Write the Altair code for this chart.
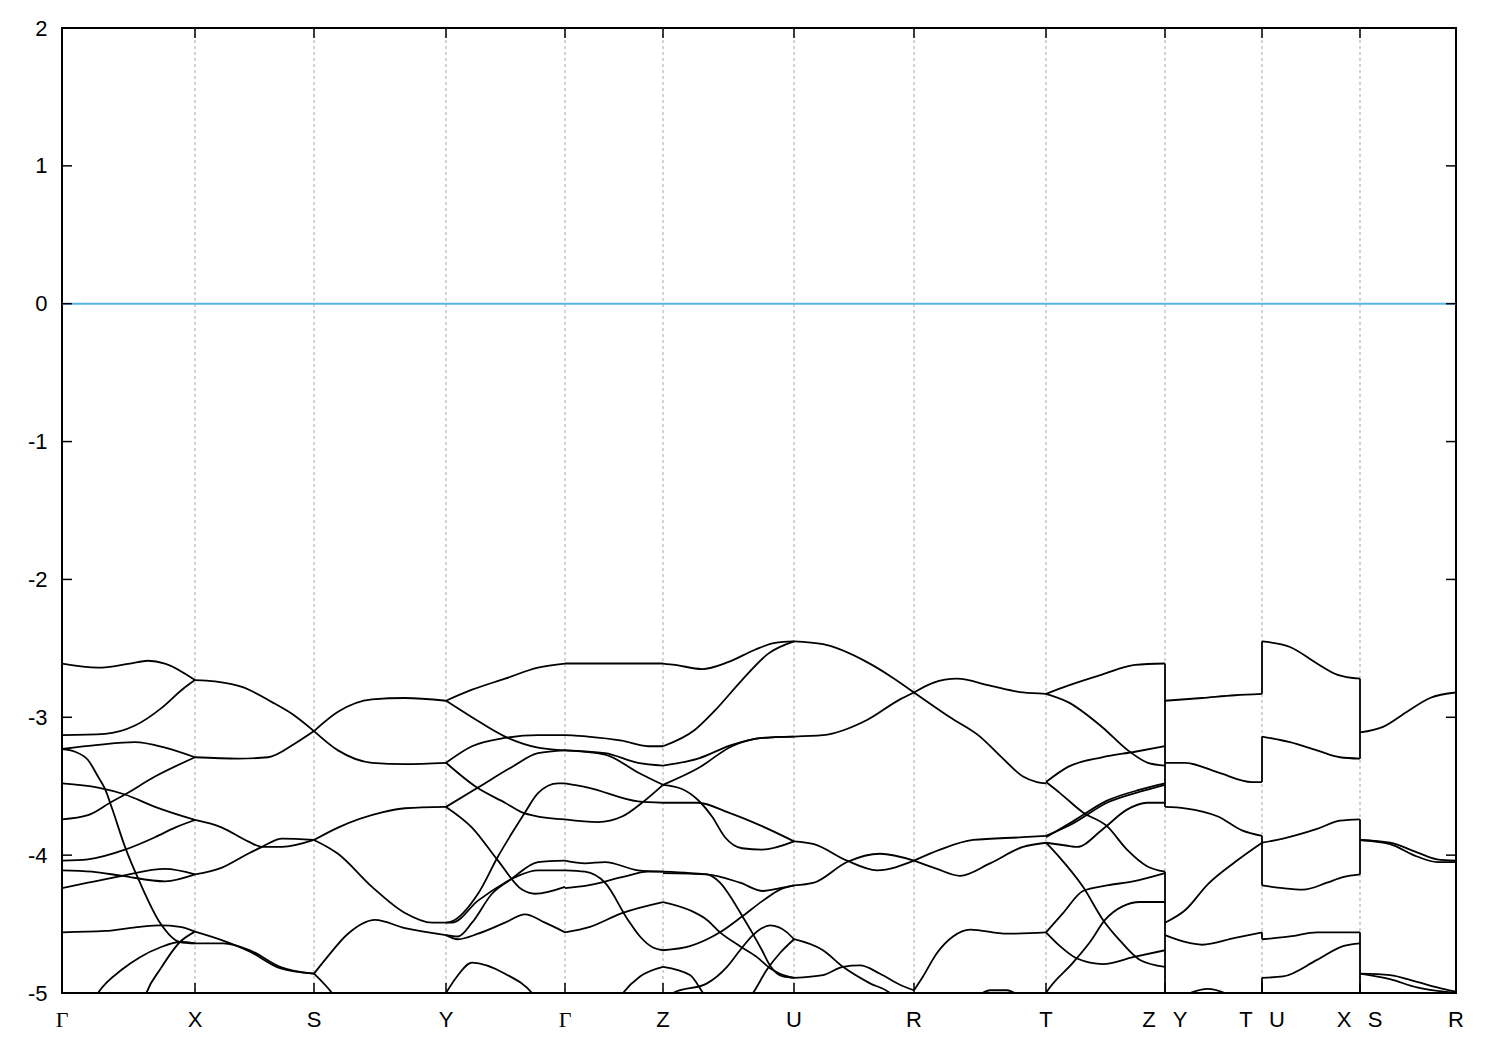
import altair as alt
import pandas as pd

# ---------------- data ----------------
# high-symmetry points along the k-path (path length, arbitrary units)
tick_k = [0, 133, 252, 384, 503, 601, 732, 852, 984, 1103, 1200, 1298, 1394]
tick_lbl = ["Γ", "X", "S", "Y", "Γ", "Z", "U", "R", "T", "Z|Y", "T|U", "X|S", "R"]
e_ticks = [-5, -4, -3, -2, -1, 0, 1, 2]
fermi = [0.0]

# bands, segment by segment: lists of (k, E[eV])
GX = [
    [(0, -2.61), (36, -2.64), (68, -2.61), (86, -2.59), (103, -2.61), (133, -2.73)],
    [(0, -3.13), (43, -3.12), (73, -3.06), (100, -2.93), (120, -2.80), (133, -2.73)],
    [(0, -3.23), (36, -3.20), (73, -3.18), (103, -3.22), (133, -3.29)],
    [(0, -3.23), (13, -3.25), (26, -3.31), (36, -3.43), (43, -3.52), (50, -3.66), (63, -3.94),
     (78, -4.20), (98, -4.49), (118, -4.63), (133, -4.64)],
    [(0, -3.74), (26, -3.71), (48, -3.62), (63, -3.56), (93, -3.43), (133, -3.29)],
    [(0, -3.48), (36, -3.51), (63, -3.56), (93, -3.65), (133, -3.745)],
    [(0, -4.04), (26, -4.03), (63, -3.96), (93, -3.87), (113, -3.80), (133, -3.745)],
    [(0, -4.11), (30, -4.12), (60, -4.15), (103, -4.19), (133, -4.14)],
    [(0, -4.24), (26, -4.20), (60, -4.15), (103, -4.10), (133, -4.14)],
    [(0, -4.56), (43, -4.55), (78, -4.52), (98, -4.51), (118, -4.52), (133, -4.555)],
    [(28, -5.1), (36, -5.0), (60, -4.83), (78, -4.74), (98, -4.67), (118, -4.63), (133, -4.64)],
    [(80, -5.1), (85, -4.99), (98, -4.83), (118, -4.63), (133, -4.555)],
]
XS = [
    [(133, -2.73), (153, -2.74), (180, -2.78), (210, -2.89), (233, -2.99), (252, -3.10)],
    [(133, -3.29), (176, -3.30), (206, -3.29), (233, -3.19), (252, -3.10)],
    [(133, -3.745), (160, -3.80), (186, -3.90), (200, -3.94), (220, -3.94), (252, -3.89)],
    [(133, -4.14), (160, -4.09), (186, -3.99), (200, -3.94), (220, -3.88), (252, -3.89)],
    [(133, -4.555), (161, -4.62), (188, -4.70), (218, -4.82), (252, -4.86)],
    [(133, -4.64), (161, -4.64), (188, -4.69), (218, -4.81), (252, -4.86)],
]
SY = [
    [(252, -3.10), (276, -2.96), (310, -2.87), (343, -2.86), (384, -2.88)],
    [(252, -3.10), (276, -3.24), (310, -3.33), (343, -3.34), (384, -3.33)],
    [(252, -3.89), (276, -3.80), (320, -3.69), (343, -3.66), (384, -3.65)],
    [(252, -3.89), (276, -3.99), (310, -4.23), (343, -4.42), (370, -4.49), (384, -4.49)],
    [(252, -4.86), (263, -4.76), (286, -4.57), (313, -4.47), (343, -4.53), (384, -4.58)],
    [(252, -4.86), (270, -5.0), (280, -5.1)],
]
YG = [
    [(384, -2.88), (410, -2.80), (443, -2.72), (476, -2.64), (503, -2.61)],
    [(384, -2.88), (410, -3.00), (443, -3.14), (476, -3.22), (503, -3.24)],
    [(384, -3.33), (410, -3.21), (443, -3.15), (476, -3.13), (503, -3.13)],
    [(384, -3.33), (415, -3.51), (443, -3.62), (460, -3.69), (476, -3.72), (503, -3.74)],
    [(384, -3.65), (416, -3.51), (450, -3.36), (476, -3.26), (503, -3.24)],
    [(384, -3.65), (410, -3.80), (436, -4.04), (460, -4.25), (473, -4.28), (503, -4.23)],
    [(384, -4.49), (390, -4.48), (416, -4.28), (436, -4.01), (450, -3.84), (463, -3.69),
     (476, -3.55), (496, -3.48), (503, -3.48)],
    [(384, -4.49), (390, -4.49), (416, -4.33), (443, -4.20), (456, -4.15), (476, -4.11), (503, -4.11)],
    [(384, -4.58), (396, -4.59), (410, -4.49), (430, -4.28), (450, -4.17), (476, -4.05), (503, -4.04)],
    [(384, -4.58), (396, -4.61), (416, -4.57), (443, -4.49), (463, -4.43), (483, -4.49), (503, -4.56)],
    [(384, -5.0), (395, -4.88), (410, -4.78), (443, -4.86), (470, -5.0), (480, -5.1)],
]
GZ = [
    [(503, -2.61), (550, -2.61), (601, -2.61)],
    [(503, -3.13), (526, -3.14), (560, -3.17), (586, -3.21), (601, -3.21)],
    [(503, -3.24), (543, -3.26), (576, -3.33), (601, -3.35)],
    [(503, -3.24), (543, -3.27), (576, -3.40), (601, -3.49)],
    [(503, -3.48), (526, -3.51), (576, -3.61), (601, -3.62)],
    [(503, -3.74), (536, -3.76), (560, -3.72), (580, -3.62), (601, -3.49)],
    [(503, -4.04), (523, -4.06), (543, -4.05), (576, -4.11), (601, -4.12)],
    [(503, -4.24), (526, -4.22), (560, -4.16), (586, -4.12), (601, -4.12)],
    [(503, -4.56), (528, -4.52), (560, -4.42), (601, -4.34)],
    [(503, -4.11), (523, -4.12), (543, -4.20), (566, -4.47), (578, -4.59), (591, -4.67), (601, -4.69)],
    [(556, -5.05), (561, -5.0), (578, -4.88), (601, -4.81)],
]
ZU = [
    [(601, -2.61), (613, -2.62), (640, -2.65), (666, -2.60), (693, -2.51), (713, -2.46), (732, -2.45)],
    [(601, -3.21), (633, -3.09), (653, -2.95), (680, -2.73), (706, -2.54), (732, -2.45)],
    [(601, -3.35), (636, -3.30), (670, -3.20), (700, -3.15), (732, -3.14)],
    [(601, -3.49), (620, -3.52), (636, -3.60), (650, -3.72), (663, -3.87), (680, -3.95), (700, -3.96), (732, -3.90)],
    [(601, -3.62), (636, -3.62), (666, -3.69), (700, -3.79), (732, -3.90)],
    [(601, -3.49), (636, -3.37), (670, -3.21), (700, -3.15), (732, -3.14)],
    [(601, -4.13), (645, -4.14), (678, -4.20), (701, -4.26), (718, -4.24), (732, -4.22)],
    [(601, -4.12), (628, -4.13), (645, -4.14), (658, -4.20), (671, -4.33), (681, -4.45), (690, -4.56),
     (700, -4.69), (708, -4.80), (721, -4.88), (732, -4.89)],
    [(601, -4.34), (628, -4.40), (645, -4.47), (658, -4.56), (678, -4.66), (695, -4.74), (708, -4.82),
     (718, -4.86), (732, -4.89)],
    [(601, -4.69), (628, -4.66), (658, -4.56), (681, -4.44), (701, -4.33), (718, -4.25), (732, -4.22)],
    [(601, -4.81), (628, -4.87), (641, -5.0), (646, -5.05)],
    [(606, -5.05), (611, -5.0), (645, -4.93), (665, -4.81), (678, -4.69), (691, -4.58), (708, -4.51),
     (725, -4.56), (732, -4.61)],
    [(686, -5.05), (691, -5.0), (705, -4.83), (718, -4.71), (732, -4.61)],
]
UR = [
    [(732, -2.45), (761, -2.47), (805, -2.60), (828, -2.70), (852, -2.82)],
    [(732, -3.14), (761, -3.13), (805, -3.02), (838, -2.87), (852, -2.82)],
    [(732, -3.90), (752, -3.92), (785, -4.04), (815, -4.11), (852, -4.04)],
    [(732, -4.22), (752, -4.20), (785, -4.05), (818, -3.99), (852, -4.04)],
    [(732, -4.61), (761, -4.69), (781, -4.81), (808, -4.93), (828, -5.0), (835, -5.05)],
    [(732, -4.89), (761, -4.87), (781, -4.81), (798, -4.80), (818, -4.86), (838, -4.94), (852, -4.98)],
]
RT = [
    [(852, -2.82), (888, -3.00), (918, -3.14), (941, -3.30), (961, -3.43), (975, -3.47), (984, -3.48)],
    [(852, -2.82), (871, -2.75), (895, -2.72), (928, -2.77), (961, -2.82), (984, -2.83)],
    [(852, -4.04), (875, -4.10), (898, -4.15), (928, -4.06), (961, -3.94), (984, -3.91)],
    [(852, -4.04), (878, -3.96), (911, -3.89), (961, -3.87), (984, -3.86)],
    [(852, -4.98), (861, -4.88), (875, -4.71), (891, -4.59), (908, -4.54), (945, -4.57), (984, -4.56)],
    [(915, -5.03), (928, -4.98), (945, -4.98), (958, -5.03)],
]
TZ = [
    [(984, -2.83), (1006, -2.77), (1040, -2.69), (1073, -2.62), (1103, -2.61)],
    [(984, -2.83), (1006, -2.89), (1040, -3.07), (1066, -3.24), (1086, -3.33), (1103, -3.35)],
    [(984, -3.47), (1006, -3.36), (1040, -3.29), (1073, -3.25), (1103, -3.21)],
    [(984, -3.47), (998, -3.55), (1021, -3.69), (1045, -3.79), (1065, -3.96), (1085, -4.08), (1103, -4.12)],
    [(984, -3.86), (1011, -3.77), (1045, -3.62), (1078, -3.54), (1103, -3.49)],
    [(984, -3.87), (1011, -3.755), (1045, -3.605), (1078, -3.525), (1103, -3.48)],
    [(984, -3.91), (1004, -3.93), (1015, -3.94), (1041, -3.81), (1065, -3.67), (1085, -3.62), (1103, -3.62)],
    [(984, -3.91), (998, -4.02), (1021, -4.23), (1041, -4.47), (1058, -4.62), (1078, -4.76), (1103, -4.81)],
    [(984, -4.56), (1001, -4.42), (1021, -4.26), (1045, -4.22), (1071, -4.19), (1103, -4.13)],
    [(984, -4.56), (998, -4.66), (1015, -4.75), (1041, -4.79), (1071, -4.74), (1103, -4.69)],
    [(980, -5.05), (984, -5.0), (1011, -4.78), (1028, -4.63), (1043, -4.47), (1061, -4.37), (1078, -4.34), (1103, -4.34)],
]
YT = [
    [(1103, -2.88), (1140, -2.86), (1173, -2.84), (1200, -2.83)],
    [(1103, -3.33), (1123, -3.33), (1156, -3.40), (1190, -3.47), (1200, -3.47)],
    [(1103, -3.65), (1123, -3.66), (1156, -3.72), (1180, -3.82), (1200, -3.86)],
    [(1103, -4.49), (1123, -4.40), (1146, -4.21), (1173, -4.05), (1200, -3.91)],
    [(1103, -4.58), (1123, -4.63), (1140, -4.65), (1173, -4.60), (1200, -4.56)],
    [(1118, -5.03), (1146, -4.97), (1172, -5.03)],
]
UX = [
    [(1200, -2.45), (1228, -2.49), (1255, -2.61), (1275, -2.69), (1298, -2.72)],
    [(1200, -3.14), (1228, -3.18), (1255, -3.24), (1278, -3.29), (1298, -3.30)],
    [(1200, -3.91), (1221, -3.88), (1255, -3.81), (1278, -3.75), (1298, -3.74)],
    [(1200, -4.22), (1221, -4.24), (1241, -4.25), (1265, -4.20), (1281, -4.16), (1298, -4.14)],
    [(1200, -4.61), (1228, -4.59), (1255, -4.56), (1298, -4.56)],
    [(1200, -4.89), (1221, -4.88), (1255, -4.76), (1281, -4.66), (1298, -4.64)],
]
SR = [
    [(1298, -3.11), (1321, -3.07), (1345, -2.96), (1368, -2.86), (1394, -2.82)],
    [(1298, -3.89), (1328, -3.91), (1355, -3.98), (1375, -4.03), (1394, -4.04)],
    [(1298, -3.89), (1328, -3.92), (1355, -4.01), (1375, -4.05), (1394, -4.05)],
    [(1298, -4.86), (1328, -4.87), (1355, -4.92), (1381, -4.97), (1394, -4.99)],
    [(1298, -4.86), (1328, -4.90), (1355, -4.96), (1394, -5.0)],
]

# vertical jumps at the path discontinuities
jump_k = [1103, 1103, 1200, 1200, 1200, 1200, 1200, 1298, 1298, 1298]
jump_top = [-2.61, -4.12, -2.45, -3.14, -3.86, -4.56, -4.89, -2.72, -3.74, -4.56]
jump_bot = [-3.65, -5.0, -2.83, -3.47, -4.22, -4.61, -5.0, -3.30, -4.14, -5.0]

# ---------------- build tables ----------------
segments = [GX, XS, SY, YG, GZ, ZU, UR, RT, TZ, YT, UX, SR]
rows = []
for si, seg in enumerate(segments):
    for li, line in enumerate(seg):
        for oi, (k, e) in enumerate(line):
            rows.append({"k": k, "E": e, "line": f"{si}-{li}", "o": oi})
bands_df = pd.DataFrame(rows)

W, H = 1394, 965
xs = alt.Scale(domain=[0, 1394], nice=False, zero=False)
ys = alt.Scale(domain=[-5, 2], nice=False, zero=False)
yaxis = alt.Axis(values=e_ticks, ticks=False, domain=False, grid=False, title=None,
                 labelFont="Liberation Sans", labelFontSize=22, labelColor="black",
                 labelPadding=15, labelExpr="'' + datum.value")


def X(field):
    return alt.X(field, type="quantitative", scale=xs, axis=None)


def Y(field):
    return alt.Y(field, type="quantitative", scale=ys, axis=yaxis)


ticks_df = pd.DataFrame({"k": tick_k, "lbl": tick_lbl})
inner_df = ticks_df.iloc[1:-1]
eticks_df = pd.DataFrame({"E": e_ticks})
jumps_df = pd.DataFrame({"k": jump_k, "top": jump_top, "bot": jump_bot})

grid = alt.Chart(inner_df).mark_rule(color="#a8a8a8", strokeWidth=1, strokeDash=[3, 3]).encode(
    x=X("k"), y=alt.value(0), y2=alt.value(H))

xt_bot = alt.Chart(ticks_df).mark_rule(color="black", strokeWidth=1.5).encode(
    x=X("k"), y=alt.value(H - 10), y2=alt.value(H))
xt_top = alt.Chart(ticks_df).mark_rule(color="black", strokeWidth=1.5).encode(
    x=X("k"), y=alt.value(0), y2=alt.value(10))
yt_left = alt.Chart(eticks_df).mark_rule(color="black", strokeWidth=1.5).encode(
    y=Y("E"), x=alt.value(0), x2=alt.value(10))
yt_right = alt.Chart(eticks_df).mark_rule(color="black", strokeWidth=1.5).encode(
    y=Y("E"), x=alt.value(W - 10), x2=alt.value(W))

zero = alt.Chart(pd.DataFrame({"E": fermi})).mark_rule(color="#56b4e9", strokeWidth=2).encode(
    y=Y("E"), x=alt.value(0), x2=alt.value(W))

bands = alt.Chart(bands_df).mark_line(interpolate="monotone", clip=True, color="black",
                                      strokeWidth=1.8).encode(
    x=X("k"), y=Y("E"), detail="line:N", order="o:Q")

jumps = alt.Chart(jumps_df).mark_rule(color="black", strokeWidth=1.8).encode(
    x=X("k"), y=Y("top"), y2="bot")

# tick labels (combined labels split into two letters)
single = ticks_df[~ticks_df["lbl"].str.contains(r"\|")].copy()
greek = single[single["lbl"] == "Γ"]
latin = single[single["lbl"] != "Γ"]
split = ticks_df[ticks_df["lbl"].str.contains(r"\|")].copy()
split["left"] = split["lbl"].str.split("|").str[0]
split["right"] = split["lbl"].str.split("|").str[1]

LY = 999
txt_kw = dict(fontSize=22, baseline="alphabetic", align="center", color="black")
lab_latin = alt.Chart(latin).mark_text(font="Liberation Sans", **txt_kw).encode(
    x=X("k"), y=alt.value(LY), text="lbl:N")
lab_greek = alt.Chart(greek).mark_text(font="Liberation Serif", **txt_kw).encode(
    x=X("k"), y=alt.value(LY), text="lbl:N")
lab_left = alt.Chart(split).mark_text(font="Liberation Sans", dx=-16, **txt_kw).encode(
    x=X("k"), y=alt.value(LY), text="left:N")
lab_right = alt.Chart(split).mark_text(font="Liberation Sans", dx=15, **txt_kw).encode(
    x=X("k"), y=alt.value(LY), text="right:N")

chart = alt.layer(
    grid, zero, bands, jumps, xt_bot, xt_top, yt_left, yt_right,
    lab_latin, lab_greek, lab_left, lab_right
).properties(
    width=W, height=H,
    autosize=alt.AutoSizeParams(type="none"),
    padding={"left": 54, "top": 20, "right": 36, "bottom": 49},
    background="white",
).configure_view(stroke="black", strokeWidth=2)

chart.save("out.html", embed_options={"renderer": "svg", "actions": False})
